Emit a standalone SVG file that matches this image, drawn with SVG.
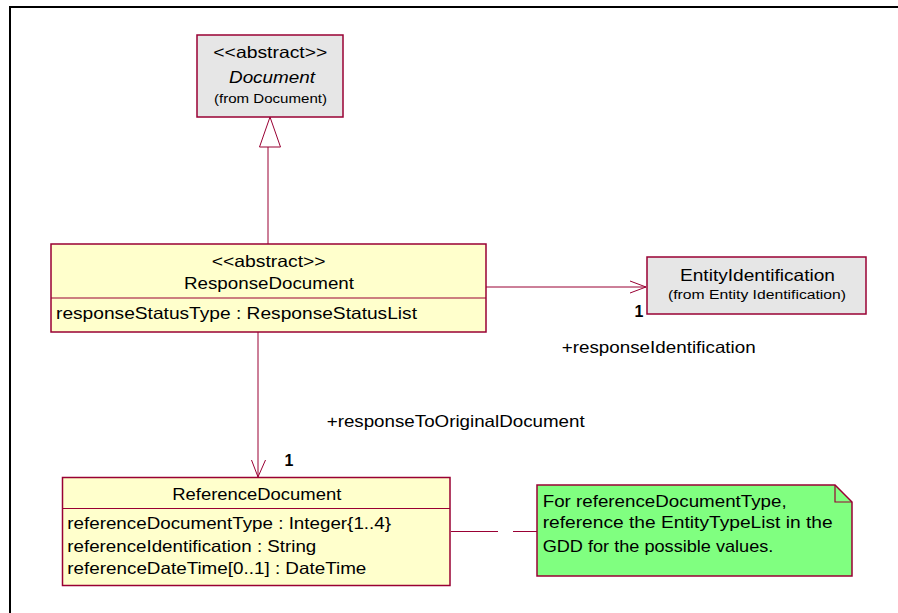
<svg xmlns="http://www.w3.org/2000/svg" width="898" height="613" viewBox="0 0 898 613">
<style>
text{font-family:"Liberation Sans",Arial,sans-serif;fill:#000;}
.t{font-size:16.5px;}
.s{font-size:12.5px;}
.b{font-size:16px;font-weight:bold;}
.cls{fill:#ffffcc;stroke:#990033;stroke-width:1.5;}
.ext{fill:#e6e6e6;stroke:#990033;stroke-width:1.5;}
.note{fill:#80ff80;stroke:#990033;stroke-width:1.5;}
.sep{stroke:#990033;stroke-width:1.2;fill:none;}
.conn{stroke:#990033;stroke-width:1;fill:none;}
</style>
<rect x="0" y="0" width="898" height="613" fill="#fff"/>
<path d="M10,613 V7 H898" fill="none" stroke="#000" stroke-width="2"/>

<g id="connectors">
  <line class="conn" x1="268" y1="147" x2="268" y2="244"/>
  <polygon points="270,117 259.5,147 280.5,147" fill="#fff" stroke="#990033" stroke-width="1"/>
  <line class="conn" x1="486" y1="287" x2="646" y2="287"/>
  <polyline class="conn" points="630,281 646,287 630,293"/>
  <line class="conn" x1="258" y1="332" x2="258" y2="477"/>
  <polyline class="conn" points="251.5,460 258,477 265.5,460"/>
  <line class="conn" x1="451" y1="531.5" x2="498" y2="531.5"/>
  <line class="conn" x1="513" y1="531.5" x2="537" y2="531.5"/>
  <text class="b" x="634.5" y="316.5">1</text>
  <text class="t" x="561.7" y="353" textLength="194" lengthAdjust="spacingAndGlyphs">+responseIdentification</text>
  <text class="t" x="326.7" y="427" textLength="258" lengthAdjust="spacingAndGlyphs">+responseToOriginalDocument</text>
  <text class="b" x="284.5" y="466">1</text>
</g>

<g id="Document">
  <rect class="ext" x="197" y="35" width="146" height="82"/>
  <text class="t" x="213.3" y="58.3" textLength="114" lengthAdjust="spacingAndGlyphs">&lt;&lt;abstract&gt;&gt;</text>
  <text class="t" x="229" y="82.7" font-style="italic" textLength="86" lengthAdjust="spacingAndGlyphs">Document</text>
  <text class="s" x="214" y="103.3" textLength="113" lengthAdjust="spacingAndGlyphs">(from Document)</text>
</g>

<g id="ResponseDocument">
  <rect class="cls" x="51" y="244" width="435" height="88"/>
  <line class="sep" x1="51" y1="298" x2="486" y2="298"/>
  <text class="t" x="211.7" y="266.7" textLength="114" lengthAdjust="spacingAndGlyphs">&lt;&lt;abstract&gt;&gt;</text>
  <text class="t" x="184" y="288.5" textLength="170" lengthAdjust="spacingAndGlyphs">ResponseDocument</text>
  <text class="t" x="56" y="319" textLength="361" lengthAdjust="spacingAndGlyphs">responseStatusType : ResponseStatusList</text>
</g>

<g id="EntityIdentification">
  <rect class="ext" x="647" y="257" width="219" height="57"/>
  <text class="t" x="680" y="280.7" textLength="155" lengthAdjust="spacingAndGlyphs">EntityIdentification</text>
  <text class="s" x="668" y="299" textLength="178" lengthAdjust="spacingAndGlyphs">(from Entity Identification)</text>
</g>

<g id="ReferenceDocument">
  <rect class="cls" x="62.5" y="477.5" width="387.5" height="108"/>
  <line class="sep" x1="62.5" y1="508.5" x2="450" y2="508.5"/>
  <text class="t" x="172.3" y="500" textLength="169" lengthAdjust="spacingAndGlyphs">ReferenceDocument</text>
  <text class="t" x="67.3" y="529.3" textLength="323.7" lengthAdjust="spacingAndGlyphs">referenceDocumentType : Integer{1..4}</text>
  <text class="t" x="67.3" y="551.7" textLength="249" lengthAdjust="spacingAndGlyphs">referenceIdentification : String</text>
  <text class="t" x="67.3" y="574" textLength="299" lengthAdjust="spacingAndGlyphs">referenceDateTime[0..1] : DateTime</text>
</g>

<g id="Note">
  <polygon class="note" points="537,485 835,485 852,502 852,576 537,576"/>
  <polyline class="sep" points="835,485 835,502 852,502"/>
  <text class="t" x="542.7" y="506.7" textLength="244" lengthAdjust="spacingAndGlyphs">For referenceDocumentType,</text>
  <text class="t" x="542.7" y="528.3" textLength="290" lengthAdjust="spacingAndGlyphs">reference the EntityTypeList in the</text>
  <text class="t" x="542.7" y="551.7" textLength="230.7" lengthAdjust="spacingAndGlyphs">GDD for the possible values.</text>
</g>
</svg>
